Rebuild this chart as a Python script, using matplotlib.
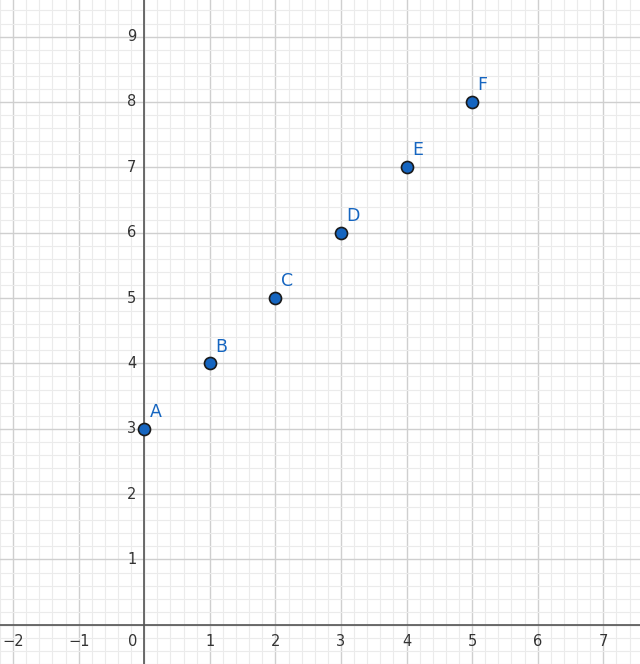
import matplotlib.pyplot as plt
import numpy as np

# point data
names = ["A", "B", "C", "D", "E", "F"]
xs = [0, 1, 2, 3, 4, 5]
ys = [3, 4, 5, 6, 7, 8]

xticks = [-2, -1, 0, 1, 2, 3, 4, 5, 6, 7]
yticks = [1, 2, 3, 4, 5, 6, 7, 8, 9]

fig = plt.figure(figsize=(6.4, 6.64), dpi=100)
ax = fig.add_axes([0, 0, 1, 1])

ax.set_xlim(-2.195, 7.56)
ax.set_ylim(-0.5, 9.56)

# grid
ax.set_axisbelow(True)
ax.set_xticks(np.arange(-2, 8, 1))
ax.set_yticks(np.arange(0, 10, 1))
ax.set_xticks(np.arange(-2.2, 7.6, 0.2), minor=True)
ax.set_yticks(np.arange(-0.6, 9.6, 0.2), minor=True)
ax.grid(which="minor", color="#ebebeb", lw=0.8)
ax.grid(which="major", color="#cfcfcf", lw=1.0)
ax.tick_params(which="both", length=0, labelbottom=False, labelleft=False)
for s in ax.spines.values():
    s.set_visible(False)

ax.axhline(0, color="#555555", lw=1.2, zorder=2)
ax.axvline(0, color="#555555", lw=1.2, zorder=2)

# tick labels
for t in xticks:
    lab = str(t).replace("-", "\u2212")
    if t == 0:
        ax.text(-0.1, -0.14, "0", ha="right", va="top", fontsize=10.5, color="#333333")
    else:
        ax.text(t, -0.14, lab, ha="center", va="top", fontsize=10.5, color="#333333")
for t in yticks:
    ax.text(-0.12, t, str(t), ha="right", va="center", fontsize=10.5, color="#333333")

# points
ax.scatter(xs, ys, s=75, color="#1565c0", edgecolors="#1a1a1a", linewidths=1.2, zorder=3)
for n, x, y in zip(names, xs, ys):
    ax.text(x + 0.08, y + 0.12, n, fontsize=12.5, color="#1565c0", ha="left", va="bottom")

fig.savefig("out.png", dpi=100)
